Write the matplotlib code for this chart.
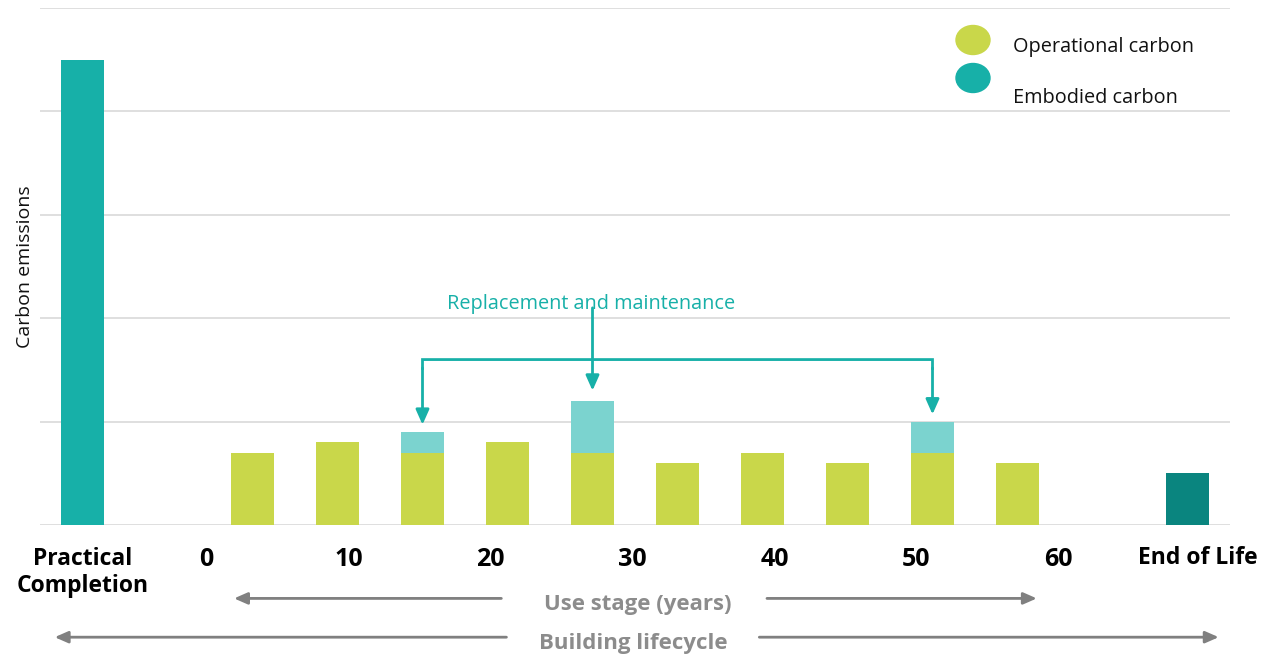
import matplotlib.pyplot as plt
from matplotlib.patches import Ellipse

plt.rcParams['font.family'] = ['Open Sans', 'DejaVu Sans']

# slot 0 = practical completion, 1 and 12 empty, 2-11 use stage, 13 = end of life
slots = list(range(14))
practical = [4.5] + [0] * 13
operational = [0, 0, 0.7, 0.8, 0.7, 0.8, 0.7, 0.6, 0.7, 0.6, 0.7, 0.6, 0, 0]
embodied_repl = [0, 0, 0, 0, 0.2, 0, 0.5, 0, 0, 0, 0.3, 0, 0, 0]
end_of_life = [0] * 13 + [0.5]
replacement_slots = [4, 6, 10]
years = [0, 10, 20, 30, 40, 50, 60]

c_oper = '#c9d74a'
c_emb = '#17b0a8'
c_emb_light = '#7bd3cf'
c_eol = '#0a857f'
c_grey = '#8c8c8c'

fig = plt.figure(figsize=(12.76, 6.54), dpi=100)
ax = fig.add_axes([40 / 1276, 1 - 525 / 654, 1190 / 1276, 517 / 654])

ax.bar(slots, practical, width=0.5, color=c_emb, zorder=3)
ax.bar(slots, operational, width=0.5, color=c_oper, zorder=3)
ax.bar(slots, embodied_repl, width=0.5, bottom=operational, color=c_emb_light, zorder=3)
ax.bar(slots, end_of_life, width=0.5, color=c_eol, zorder=3)

ax.set_xlim(-0.5, 13.5)
ax.set_ylim(0, 5)
ax.set_yticks(range(6))
ax.yaxis.grid(True, color='#d9d9d9', linewidth=1.2)
ax.set_axisbelow(True)
ax.tick_params(left=False, bottom=False, labelleft=False, labelbottom=False)
for s in ax.spines.values():
    s.set_visible(False)
ax.set_ylabel('Carbon emissions', fontsize=14, color='#111111', labelpad=4)

# bottom labels
tx = ax.get_xaxis_transform()
ax.text(0, -0.092, 'Practical\nCompletion', transform=tx, ha='center', va='center',
        fontsize=16.5, fontweight='bold', linespacing=1.12)
for yr in years:
    ax.text(1.46 + yr * 0.167, -0.067, str(yr), transform=tx, ha='center', va='center',
            fontsize=18, fontweight='bold')
ax.text(13.12, -0.064, 'End of Life', transform=tx, ha='center', va='center',
        fontsize=16.5, fontweight='bold')

# use stage / lifecycle arrows
arrow_kw = dict(arrowstyle='-|>,head_length=0.8,head_width=0.35', color='#808080', lw=2)
for y, (l, gl, gr, r, cx, txt) in [
        (-0.142, (1.75, 4.96, 8.02, 11.26, 6.53, 'Use stage (years)')),
        (-0.217, (-0.36, 5.02, 7.93, 13.4, 6.48, 'Building lifecycle'))]:
    ax.annotate('', xy=(l, y), xytext=(gl, y), xycoords=tx, textcoords=tx,
                arrowprops=arrow_kw, annotation_clip=False)
    ax.annotate('', xy=(r, y), xytext=(gr, y), xycoords=tx, textcoords=tx,
                arrowprops=arrow_kw, annotation_clip=False)
    ax.text(cx, y - 0.012, txt, transform=tx, ha='center', va='center',
            fontsize=16, fontweight='bold', color=c_grey, clip_on=False)

# replacement bracket
tops = [operational[i] + embodied_repl[i] for i in replacement_slots]
bracket_y = 1.6
teal_kw = dict(arrowstyle='-|>,head_length=0.9,head_width=0.4', color=c_emb, lw=2,
               shrinkA=0, shrinkB=0)
ax.plot([replacement_slots[0], replacement_slots[0], replacement_slots[-1], replacement_slots[-1]],
        [bracket_y - 0.1, bracket_y, bracket_y, bracket_y - 0.1],
        color=c_emb, lw=2, zorder=4, solid_joinstyle='miter', solid_capstyle='butt',
        snap=False)
for s, t in [(replacement_slots[0], tops[0]), (replacement_slots[-1], tops[-1])]:
    ax.annotate('', xy=(s, t + 0.07), xytext=(s, bracket_y - 0.08), arrowprops=teal_kw)
ax.annotate('', xy=(replacement_slots[1], tops[1] + 0.1), xytext=(replacement_slots[1], 2.1),
            arrowprops=teal_kw)
ax.text(replacement_slots[1] - 0.02, 2.14, 'Replacement and maintenance', ha='center',
        va='center', fontsize=14.3, color=c_emb)

# legend
for (yc, ty, col, lab) in [(40, 47, c_oper, 'Operational carbon'),
                            (78, 98, c_emb, 'Embodied carbon')]:
    fig.add_artist(Ellipse((973 / 1276, 1 - yc / 654), 34 / 1276, 29 / 654,
                           transform=fig.transFigure, color=col))
    fig.text(1013 / 1276, 1 - ty / 654, lab, ha='left', va='center', fontsize=14.3,
             color='#111111')

fig.savefig('out.png', dpi=100)
